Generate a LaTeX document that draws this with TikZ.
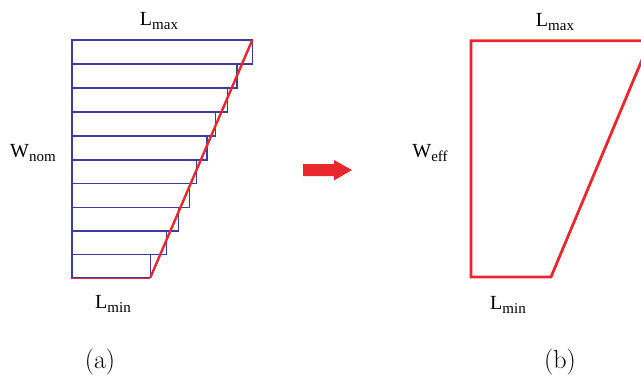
\documentclass[tikz,border=0pt]{standalone}
\usepackage{fontspec}
\newfontfamily\timesfont{Liberation Serif}
\definecolor{stripblue}{HTML}{3F3A9E}
\definecolor{edgered}{HTML}{E8282D}
\newcommand{\sublbl}[2]{{\timesfont\fontsize{20}{20}\selectfont #1\raisebox{-4pt}{\fontsize{15}{15}\selectfont #2}}}
\tikzset{
  strip/.style={draw=stripblue, line width=1.2pt},
  redline/.style={draw=edgered, line width=2.4pt, line join=miter},
  lbl/.style={inner sep=0pt, anchor=base},
  caption/.style={inner sep=0pt, anchor=base, font=\fontsize{26}{26}\selectfont}
}
\begin{document}
\begin{tikzpicture}[x=1pt,y=-1pt]
  \useasboundingbox (0,0) rectangle (641,376);
  \clip (0,0) rectangle (641,376);
  % (a) nominal shape cut into strips
  \draw[redline] (150.3,277.7) -- (72,277.7) -- (72,40) -- (252.3,40);
  \foreach \top/\bot/\right in {40/64/252.3, 64/88/237, 88/112/227.3, 112/136/215.3,
      136/160/207, 160/183.7/196.7, 183.7/207.3/189.3, 207.3/231/178.3,
      231/254.3/166.7, 254.3/277.7/150.3}
    \draw[strip] (72,\top) rectangle (\right,\bot);
  \draw[redline] (150.3,277.7) -- (252.3,40);
  \node[lbl] (lmaxa) at (159,25.5) {\sublbl{L}{max}};
  \node[lbl] (wnom) at (33,157) {\sublbl{W}{nom}};
  \node[lbl] (lmina) at (113,308) {\sublbl{L}{min}};
  \node[caption] (capa) at (100,368) {(a)};
  % arrow
  \fill[edgered] (303,164) -- (334,164) -- (334,160) -- (352,170) -- (334,180.5)
    -- (334,176) -- (303,176) -- cycle;
  % (b) effective shape
  \draw[redline, line width=2.8pt] (471,40.7) -- (471,277) -- (551,277) -- (650,40.7) -- cycle;
  \node[lbl] (lmaxb) at (555,26) {\sublbl{L}{max}};
  \node[lbl] (weff) at (430,157) {\sublbl{W}{eff}};
  \node[lbl] (lminb) at (508,309) {\sublbl{L}{min}};
  \node[caption] (capb) at (560,368) {(b)};
\end{tikzpicture}
\end{document}
